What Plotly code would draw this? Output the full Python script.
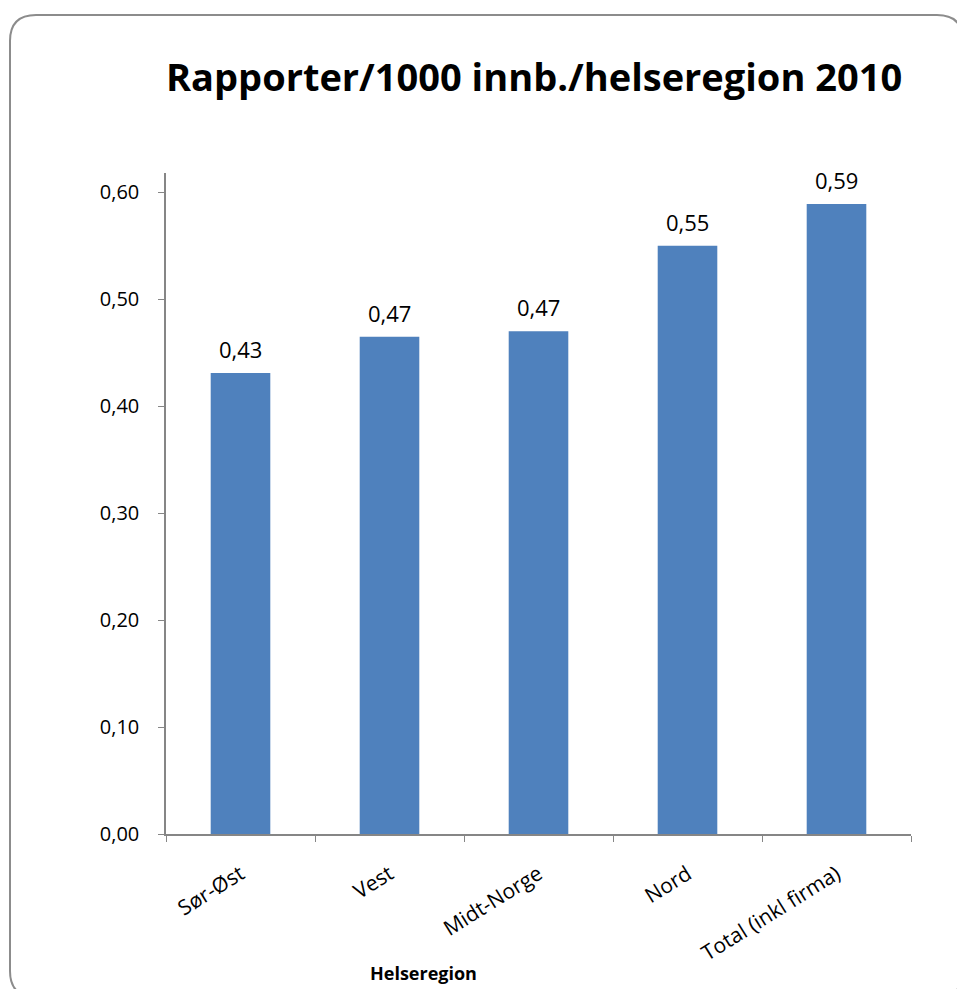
import plotly.graph_objects as go

categories = ["Sør-Øst", "Vest", "Midt-Norge", "Nord", "Total (inkl firma)"]
values = [0.431, 0.465, 0.470, 0.550, 0.589]
y_ticks = [0.0, 0.1, 0.2, 0.3, 0.4, 0.5, 0.6]
title_text = "Rapporter/1000 innb./helseregion 2010"
x_title = "Helseregion"

W, H = 957, 989
L, R, T, B = 166, 911, 173, 834  # plot area in pixels

def px(x):
    return (x - L) / (R - L)

def py(y):
    return (B - y) / (B - T)

FONT = "Open Sans, Noto Sans, sans-serif"
BAR = "#4F81BD"
AXIS = "#868686"

fig = go.Figure()
fig.add_trace(go.Bar(
    x=categories, y=values, width=0.4,
    marker=dict(color=BAR, line=dict(width=0)),
    hoverinfo="skip",
))

for c, v in zip(categories, values):
    fig.add_annotation(x=c, y=v, text=f"{v:.2f}".replace(".", ","),
                       showarrow=False, yanchor="bottom", yshift=7,
                       font=dict(family=FONT, size=22, color="#000000"))

# rounded chart border
x0, y0, x1, y1, r = 10, 15, 963, 997, 26
path = (f"M {px(x0+r)},{py(y0)} L {px(x1-r)},{py(y0)} "
        f"Q {px(x1)},{py(y0)} {px(x1)},{py(y0+r)} "
        f"L {px(x1)},{py(y1-r)} Q {px(x1)},{py(y1)} {px(x1-r)},{py(y1)} "
        f"L {px(x0+r)},{py(y1)} Q {px(x0)},{py(y1)} {px(x0)},{py(y1-r)} "
        f"L {px(x0)},{py(y0+r)} Q {px(x0)},{py(y0)} {px(x0+r)},{py(y0)} Z")
fig.add_shape(type="path", xref="paper", yref="paper", path=path,
              line=dict(color="#8C8C8C", width=2), layer="below")

fig.add_annotation(xref="paper", yref="paper", x=px(534), y=py(76),
                   text=f"<b>{title_text}</b>", showarrow=False,
                   xanchor="center", yanchor="middle",
                   font=dict(family=FONT, size=38, color="#000000"))
fig.add_annotation(xref="paper", yref="paper", x=px(423), y=py(973),
                   text=f"<b>{x_title}</b>", showarrow=False,
                   xanchor="center", yanchor="middle",
                   font=dict(family=FONT, size=18, color="#000000"))

fig.update_layout(
    width=W, height=H,
    margin=dict(l=L, r=W - R, t=T, b=H - B, pad=0),
    paper_bgcolor="white", plot_bgcolor="white",
    showlegend=False,
    separators=",.",
    bargap=0.6,
    xaxis=dict(
        type="category", showline=True, linecolor=AXIS, linewidth=1.5,
        ticks="outside", tickson="boundaries", ticklen=6, tickcolor=AXIS,
        tickangle=-32, showgrid=False, zeroline=False,
        ticklabelstandoff=18,
        tickfont=dict(family=FONT, size=21, color="#000000"),
        range=[-0.5, 4.5],
    ),
    yaxis=dict(
        range=[0, 0.618], showline=True, linecolor=AXIS, linewidth=1.5,
        ticks="outside", ticklen=6, tickcolor=AXIS,
        ticklabelstandoff=15,
        tickvals=y_ticks, tickformat=".2f", showgrid=False, zeroline=False,
        tickfont=dict(family=FONT, size=20, color="#000000"),
    ),
)

fig.write_html("out.html")
